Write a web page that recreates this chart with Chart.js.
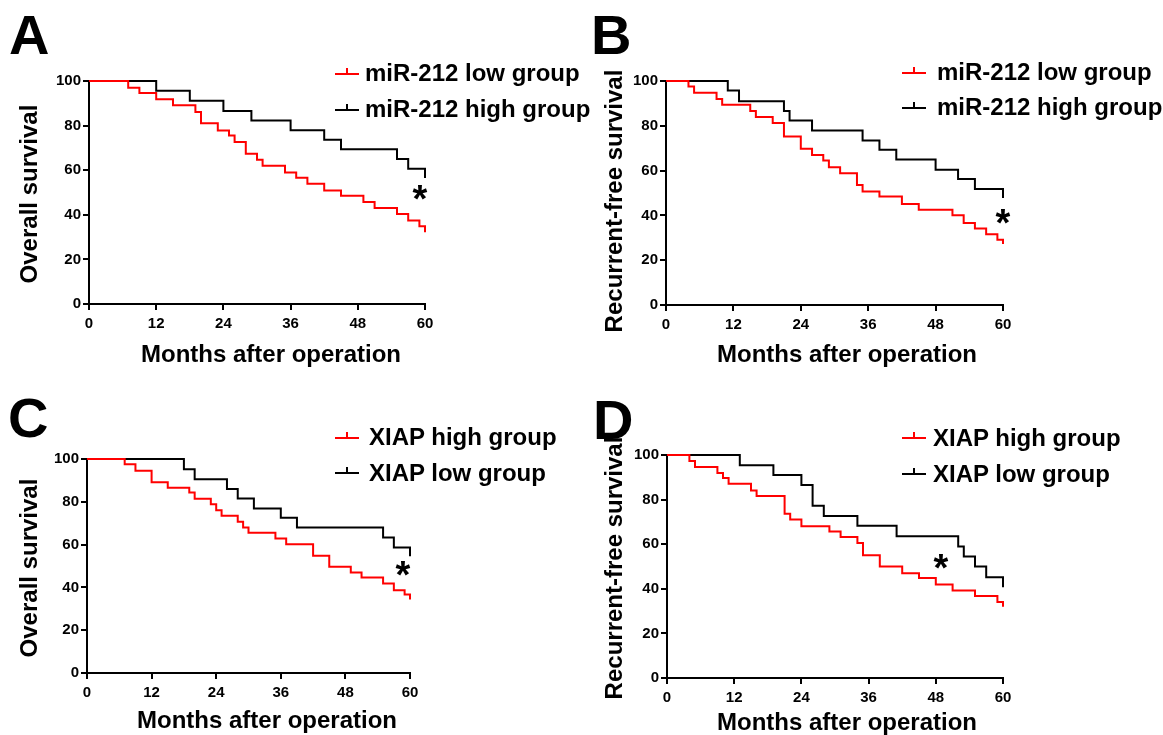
<!DOCTYPE html>
<html>
<head>
<meta charset="utf-8">
<script src="https://cdn.jsdelivr.net/npm/chart.js@4.4.1/dist/chart.umd.min.js"></script>
<style>
body { margin: 0; width: 1163px; height: 735px; background: #fff; position: relative; overflow: hidden;
       font-family: "Liberation Sans", Arial, sans-serif; font-weight: bold; color: #000; }
canvas { position: absolute; }
.txt { position: absolute; white-space: nowrap; font-size: 24px; line-height: 24px; }
.letter { position: absolute; font-size: 56px; line-height: 56px; }
.ytitle { position: absolute; white-space: nowrap; font-size: 24px; line-height: 24px; transform: translate(-50%, -50%) rotate(-90deg); }
.xtitle { position: absolute; white-space: nowrap; font-size: 24px; line-height: 24px; transform: translate(-50%, -50%); }
.star { position: absolute; font-size: 38px; line-height: 38px; width: 20px; text-align: center; }
.sw { position: absolute; width: 24px; height: 0; border-top: 2px solid; }
.sw i { position: absolute; left: 11px; top: -7px; width: 2px; height: 6px; background: currentColor; }
</style>
</head>
<body>

<canvas id="chartA" width="580" height="370" style="left:0;top:0"></canvas>
<canvas id="chartB" width="583" height="370" style="left:580px;top:0"></canvas>
<canvas id="chartC" width="580" height="365" style="left:0;top:370px"></canvas>
<canvas id="chartD" width="583" height="365" style="left:580px;top:370px"></canvas>

<div class="letter" style="left:9px;top:7px">A</div>
<div class="letter" style="left:591px;top:7px">B</div>
<div class="letter" style="left:8px;top:390px">C</div>
<div class="letter" style="left:593px;top:392px">D</div>

<div class="ytitle" style="left:29px;top:194px">Overall survival</div>
<div class="ytitle" style="left:614px;top:201px">Recurrent-free survival</div>
<div class="ytitle" style="left:29px;top:568px">Overall survival</div>
<div class="ytitle" style="left:614px;top:568px">Recurrent-free survival</div>

<div class="xtitle" style="left:271px;top:354px">Months after operation</div>
<div class="xtitle" style="left:847px;top:354px">Months after operation</div>
<div class="xtitle" style="left:267px;top:720px">Months after operation</div>
<div class="xtitle" style="left:847px;top:722px">Months after operation</div>

<!-- legends -->
<div class="sw" style="left:335px;top:73px;color:red"><i></i></div>
<div class="txt" style="left:365px;top:61px">miR-212 low group</div>
<div class="sw" style="left:335px;top:109px;color:#000"><i></i></div>
<div class="txt" style="left:365px;top:97px">miR-212 high group</div>

<div class="sw" style="left:902px;top:72px;color:red"><i></i></div>
<div class="txt" style="left:937px;top:60px">miR-212 low group</div>
<div class="sw" style="left:902px;top:107px;color:#000"><i></i></div>
<div class="txt" style="left:937px;top:95px">miR-212 high group</div>

<div class="sw" style="left:335px;top:437px;color:red"><i></i></div>
<div class="txt" style="left:369px;top:425px">XIAP high group</div>
<div class="sw" style="left:335px;top:472px;color:#000"><i></i></div>
<div class="txt" style="left:369px;top:461px">XIAP low group</div>

<div class="sw" style="left:902px;top:437px;color:red"><i></i></div>
<div class="txt" style="left:933px;top:426px">XIAP high group</div>
<div class="sw" style="left:902px;top:473px;color:#000"><i></i></div>
<div class="txt" style="left:933px;top:462px">XIAP low group</div>

<div class="star" style="left:410px;top:180px">*</div>
<div class="star" style="left:993px;top:204px">*</div>
<div class="star" style="left:393px;top:556px">*</div>
<div class="star" style="left:931px;top:549px">*</div>

<script>
// axis ticks
const monthTicks = [0, 12, 24, 36, 48, 60];
const survivalTicks = [0, 20, 40, 60, 80, 100];

// A: overall survival by miR-212
const aLowMonths = [0, 7, 9, 12, 15, 19, 20, 23, 25, 26, 28, 30, 31, 35, 37, 39, 42, 45, 49, 51, 55, 57, 59, 60];
const aLowSurvival = [100, 97, 94.6, 91.8, 89.1, 86.1, 81.1, 77.8, 75.6, 72.6, 67.4, 64.7, 62, 59, 56.6, 53.9, 50.9, 48.5, 45.7, 43, 40.4, 37.4, 34.9, 32.2];
const aHighMonths = [0, 12, 18, 24, 29, 36, 42, 45, 55, 57, 60];
const aHighSurvival = [100, 95.6, 91.1, 86.6, 82.3, 77.9, 73.6, 69.4, 65, 60.6, 56.5];

// B: recurrent-free survival by miR-212
const bLowMonths = [0, 4, 5, 9, 10, 15, 16, 19, 21, 24, 26, 28, 29, 31, 34, 35, 38, 42, 45, 51, 53, 55, 57, 59, 60];
const bLowSurvival = [100, 97.6, 94.8, 92, 89.4, 86.6, 83.9, 81.2, 75.2, 69.7, 67, 64.5, 61.5, 58.8, 53.6, 50.7, 48.4, 45.1, 42.5, 40.1, 36.6, 34.2, 31.6, 29.1, 27.2];
const bHighMonths = [0, 11, 13, 21, 22, 26, 35, 38, 41, 48, 52, 55, 60];
const bHighSurvival = [100, 95.8, 91, 86.6, 82.4, 77.9, 73.4, 69.3, 64.9, 60.4, 56.3, 51.8, 47.8];

// C: overall survival by XIAP
const cHighMonths = [0, 7, 9, 12, 15, 19, 20, 23, 24, 25, 28, 29, 30, 35, 37, 42, 45, 49, 51, 55, 57, 59, 60];
const cHighSurvival = [100, 97.5, 94.5, 89.1, 86.6, 84.4, 81.4, 78.8, 76.1, 73.5, 70.7, 68, 65.5, 62.9, 60.2, 54.8, 49.6, 47, 44.6, 41.8, 38.7, 36.7, 34.3];
const cLowMonths = [0, 18, 20, 26, 28, 31, 36, 39, 55, 57, 60];
const cLowSurvival = [100, 95.2, 90.5, 86, 81.6, 76.9, 72.5, 68, 63.3, 58.7, 54.6];

// D: recurrent-free survival by XIAP
const dHighMonths = [0, 4, 5, 9, 10, 11, 15, 16, 21, 22, 24, 29, 31, 34, 35, 38, 42, 45, 48, 51, 55, 59, 60];
const dHighSurvival = [100, 97.3, 94.6, 91.9, 89.7, 87.1, 84.1, 81.6, 73.7, 71.1, 68.1, 65.7, 63.2, 60.5, 55, 50, 47, 44.8, 41.9, 39.2, 36.8, 34.1, 32];
const dLowMonths = [0, 13, 19, 24, 26, 28, 34, 41, 52, 53, 55, 57, 60];
const dLowSurvival = [100, 95.4, 91, 86.5, 77.2, 72.7, 68.3, 63.6, 59, 54.5, 50, 45.2, 40.7];

const tickFont = { family: '"Liberation Sans", Arial, sans-serif', size: 15, weight: 'bold' };

function points(months, surv) {
    return months.map((m, i) => ({ x: m, y: surv[i] }));
}

// box = canvas position on page, area = wanted plot area on page
function makePanel(id, box, area, redMonths, redSurv, blackMonths, blackSurv) {
    const yW = 60, xH = 40;
    const ctx = document.getElementById(id).getContext('2d');
    return new Chart(ctx, {
        type: 'line',
        data: {
            datasets: [
                { data: points(redMonths, redSurv), borderColor: '#ff0000', borderWidth: 2, stepped: 'before', pointRadius: 0, clip: false },
                { data: points(blackMonths, blackSurv), borderColor: '#000000', borderWidth: 2, stepped: 'before', pointRadius: 0, clip: false }
            ]
        },
        options: {
            responsive: false,
            animation: false,
            layout: {
                padding: {
                    left: area.left - box.left - yW,
                    top: area.top - box.top,
                    right: box.left + box.w - area.right,
                    bottom: box.top + box.h - area.bottom - xH
                }
            },
            plugins: { legend: { display: false }, tooltip: { enabled: false } },
            scales: {
                x: {
                    type: 'linear', min: 0, max: 60,
                    afterFit: s => { s.height = xH; },
                    afterBuildTicks: s => { s.ticks = monthTicks.map(v => ({ value: v })); },
                    border: { color: '#000', width: 2 },
                    grid: { drawOnChartArea: false, color: '#000', lineWidth: 2, tickLength: 6 },
                    ticks: { color: '#000', font: tickFont, padding: 5, maxRotation: 0 }
                },
                y: {
                    min: 0, max: 100,
                    afterFit: s => { s.width = yW; },
                    afterBuildTicks: s => { s.ticks = survivalTicks.map(v => ({ value: v })); },
                    border: { color: '#000', width: 2 },
                    grid: { drawOnChartArea: false, color: '#000', lineWidth: 2, tickLength: 6 },
                    ticks: { color: '#000', font: tickFont, padding: 2 }
                }
            }
        }
    });
}

makePanel('chartA', { left: 0, top: 0, w: 580, h: 370 }, { left: 89, top: 81, right: 425, bottom: 304 },
    aLowMonths, aLowSurvival, aHighMonths, aHighSurvival);
makePanel('chartB', { left: 580, top: 0, w: 583, h: 370 }, { left: 666, top: 81, right: 1003, bottom: 305 },
    bLowMonths, bLowSurvival, bHighMonths, bHighSurvival);
makePanel('chartC', { left: 0, top: 370, w: 580, h: 365 }, { left: 87, top: 459, right: 410, bottom: 673 },
    cHighMonths, cHighSurvival, cLowMonths, cLowSurvival);
makePanel('chartD', { left: 580, top: 370, w: 583, h: 365 }, { left: 667, top: 455, right: 1003, bottom: 678 },
    dHighMonths, dHighSurvival, dLowMonths, dLowSurvival);
</script>
</body>
</html>
